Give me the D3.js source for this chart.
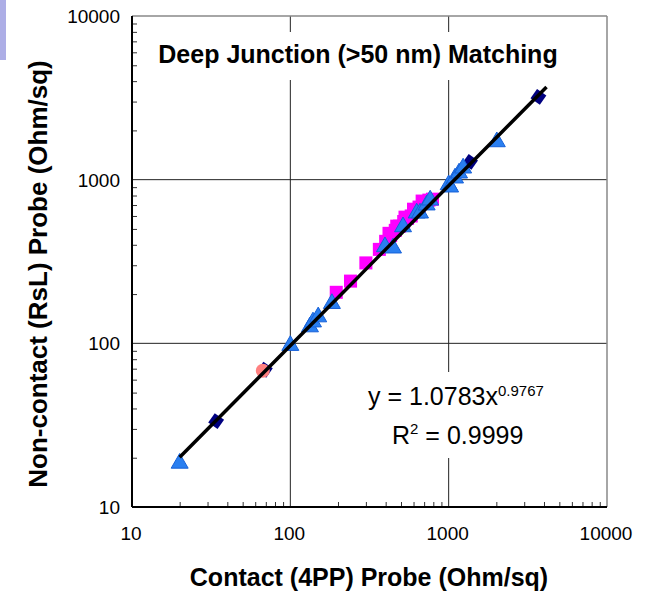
<!DOCTYPE html>
<html lang="en">
<head>
<meta charset="UTF-8">
<title>Deep Junction Matching</title>
<style>
    html,body{margin:0;padding:0;background:#fff;}
    svg{display:block;font-family:"Liberation Sans",Arial,sans-serif;}
</style>
</head>
<body>
<div id="chart"></div>
<script src="https://d3js.org/d3.v7.min.js"></script>
<script>
    // values (contact 4PP vs non-contact RsL, Ohm/sq)
    const triX = [20, 100, 133, 139, 150, 183, 396, 445, 515, 628, 659, 726, 764, 1000, 1021, 1097, 1163, 1234, 2014]
    const triY = [18.5, 97, 126, 135, 145, 175, 389, 382, 515, 625, 625, 700, 750, 930, 901, 1023, 1097, 1177, 1703]
    const sqX = [195, 240, 300, 365, 400, 420, 430, 460, 470, 490, 520, 530, 550, 580, 600, 610, 650, 680, 700, 750, 790]
    const sqY = [205, 240, 310, 375, 420, 470, 455, 490, 520, 520, 555, 590, 580, 600, 660, 640, 680, 740, 720, 750, 760]
    const diaX = [34, 69, 1365, 3690]
    const diaY = [33.5, 69, 1285, 3206]
    const circX = [67]
    const circY = [68]
    const fitA = 1.0783, fitB = 0.9767
    const fitRange = [20, 4150]
    const majorTicks = [10, 100, 1000, 10000]

    const W = 648, H = 593
    const margin = {left: 132, top: 16, right: 41, bottom: 86}
    const w = W - margin.left - margin.right, h = H - margin.top - margin.bottom

    const svg = d3.select('#chart').append('svg').attr('width', W).attr('height', H)

    // little lavender tab at the top-left corner
    svg.append('rect').attr('x', 0).attr('y', 0).attr('width', 6).attr('height', 60).attr('fill', '#adaee6')

    const x = d3.scaleLog().domain([10, 10000]).range([0, w])
    const y = d3.scaleLog().domain([10, 10000]).range([h, 0])

    const g = svg.append('g').attr('transform', `translate(${margin.left},${margin.top})`)

    // minor ticks (inside)
    const minors = []
    for (let d = 10; d < 10000; d *= 10) for (let k = 2; k < 10; k++) minors.push(d * k)

    g.append('g').attr('transform', `translate(0,${h})`)
        .call(d3.axisBottom(x).tickValues(minors).tickSize(-5).tickFormat(''))
        .call(a => a.select('.domain').remove())
        .selectAll('line').attr('stroke', '#333')
    g.append('g')
        .call(d3.axisLeft(y).tickValues(minors).tickSize(-5).tickFormat(''))
        .call(a => a.select('.domain').remove())
        .selectAll('line').attr('stroke', '#333')

    // grid lines
    g.append('g').selectAll('line.gx').data(majorTicks.slice(1, -1)).join('line')
        .attr('x1', d => x(d)).attr('x2', d => x(d)).attr('y1', 0).attr('y2', h)
        .attr('stroke', '#222').attr('stroke-width', 1)
    g.append('g').selectAll('line.gy').data(majorTicks.slice(1, -1)).join('line')
        .attr('y1', d => y(d)).attr('y2', d => y(d)).attr('x1', 0).attr('x2', w)
        .attr('stroke', '#222').attr('stroke-width', 1)

    // frame: grey top/right, black axes
    g.append('line').attr('x1', 0).attr('x2', w).attr('y1', 0).attr('y2', 0).attr('stroke', '#888').attr('stroke-width', 1.5)
    g.append('line').attr('x1', w).attr('x2', w).attr('y1', 0).attr('y2', h).attr('stroke', '#888').attr('stroke-width', 1.5)

    // tick labels
    g.append('g').selectAll('text').data(majorTicks).join('text')
        .attr('x', d => x(d) - 1).attr('y', h + 33)
        .attr('text-anchor', 'middle').attr('font-size', 19).text(d => d)
    g.append('g').selectAll('text').data(majorTicks).join('text')
        .attr('x', -12).attr('y', d => y(d) + 7)
        .attr('text-anchor', 'end').attr('font-size', 19).text(d => d)

    // title box (white background hides the grid)
    g.append('rect').attr('x', 20).attr('y', 16).attr('width', 420).attr('height', 48).attr('fill', '#fff')
    g.append('text').attr('x', 226).attr('y', 47).attr('text-anchor', 'middle')
        .attr('font-size', 25).attr('font-weight', 'bold').text('Deep Junction (>50 nm) Matching')

    // equation box
    g.append('rect').attr('x', 226).attr('y', 356).attr('width', 190).attr('height', 86).attr('fill', '#fff')
    const eq = g.append('text').attr('x', 236).attr('y', 389).attr('font-size', 25)
    eq.append('tspan').text('y = 1.0783x')
    eq.append('tspan').attr('dy', -9).attr('font-size', 15).text('0.9767')
    const r2 = g.append('text').attr('x', 260).attr('y', 428).attr('font-size', 25)
    r2.append('tspan').text('R')
    r2.append('tspan').attr('dy', -10).attr('font-size', 15).text('2')
    r2.append('tspan').attr('dy', 10).text(' = 0.9999')

    // axes lines
    g.append('line').attr('x1', 0).attr('x2', 0).attr('y1', 0).attr('y2', h).attr('stroke', '#000').attr('stroke-width', 2)
    g.append('line').attr('x1', 0).attr('x2', w).attr('y1', h).attr('y2', h).attr('stroke', '#000').attr('stroke-width', 2)

    // series markers
    const tri = d3.symbol().type(d3.symbolTriangle).size(125)
    const sq = d3.symbol().type(d3.symbolSquare).size(170)
    const dia = d3.symbol().type(d3.symbolSquare).size(130)

    g.append('g').selectAll('path').data(sqX.map((v, i) => [v, sqY[i]])).join('path')
        .attr('d', sq).attr('transform', d => `translate(${x(d[0])},${y(d[1])})`)
        .attr('fill', '#ff00ff')

    g.append('g').selectAll('path').data(diaX.map((v, i) => [v, diaY[i]])).join('path')
        .attr('d', dia).attr('transform', d => `translate(${x(d[0])},${y(d[1])}) rotate(35)`)
        .attr('fill', '#000080')

    g.append('g').selectAll('circle').data(circX.map((v, i) => [v, circY[i]])).join('circle')
        .attr('cx', d => x(d[0])).attr('cy', d => y(d[1])).attr('r', 7)
        .attr('fill', '#ff8080')

    g.append('g').selectAll('path').data(triX.map((v, i) => [v, triY[i]])).join('path')
        .attr('d', tri).attr('transform', d => `translate(${x(d[0])},${y(d[1])})`)
        .attr('fill', '#2a7ff0').attr('stroke', '#1660d8').attr('stroke-width', 1)

    // power-law trend line
    const fitPts = d3.range(0, 41).map(i => {
        const xv = fitRange[0] * Math.pow(fitRange[1] / fitRange[0], i / 40)
        return [xv, fitA * Math.pow(xv, fitB)]
    })
    g.append('path').datum(fitPts)
        .attr('d', d3.line().x(d => x(d[0])).y(d => y(d[1])))
        .attr('fill', 'none').attr('stroke', '#000').attr('stroke-width', 3.5)

    // axis titles
    svg.append('text').attr('x', 369).attr('y', 586).attr('text-anchor', 'middle')
        .attr('font-size', 25).attr('font-weight', 'bold').text('Contact (4PP) Probe (Ohm/sq)')
    svg.append('text').attr('transform', `translate(47,274) rotate(-90)`)
        .attr('text-anchor', 'middle').attr('font-size', 26).attr('font-weight', 'bold')
        .text('Non-contact (RsL) Probe (Ohm/sq)')
</script>
</body>
</html>
